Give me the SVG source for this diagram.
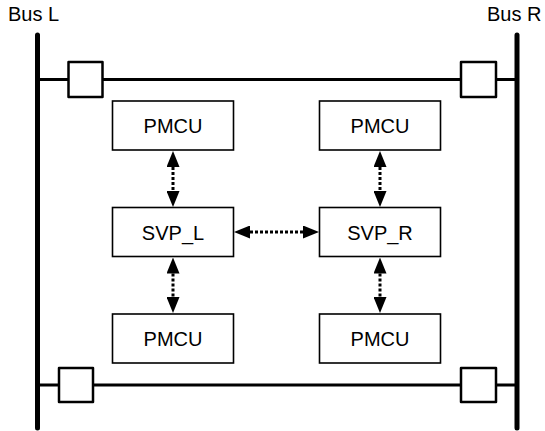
<svg xmlns="http://www.w3.org/2000/svg" width="545" height="431" viewBox="0 0 545 431">
<style>
.bus{stroke:#000;stroke-width:5;stroke-linecap:round;fill:none}
.line{stroke:#000;stroke-width:3;fill:none}
.sq{fill:#fff;stroke:#000;stroke-width:2.5;stroke-linejoin:round}
.box{fill:#fff;stroke:#000;stroke-width:1.6}
.lbl{font-family:"Liberation Sans",Arial,sans-serif;font-size:20px;fill:#000}
.conn{stroke:#000;stroke-width:3;stroke-dasharray:3 2;fill:none;marker-start:url(#ah);marker-end:url(#ah)}
</style>
<defs>
<marker id="ah" markerUnits="userSpaceOnUse" markerWidth="16" markerHeight="13" refX="0" refY="6.5" orient="auto-start-reverse" viewBox="0 0 16 13">
<path d="M0,0 L16,6.5 L0,13 z" fill="#000"/>
</marker>
</defs>
<rect width="545" height="431" fill="#fff"/>
<g id="busL">
<line class="bus" x1="37.5" y1="35" x2="37.5" y2="428"/>
<text class="lbl" x="8" y="21">Bus L</text>
</g>
<g id="busR">
<line class="bus" x1="517" y1="35" x2="517" y2="428"/>
<text class="lbl" x="487" y="21">Bus R</text>
</g>
<g id="lineTop">
<line class="line" x1="37" y1="79.5" x2="517" y2="79.5"/>
<rect class="sq" x="68.5" y="62" width="34" height="35"/>
<rect class="sq" x="461" y="62" width="35" height="35"/>
</g>
<g id="lineBottom">
<line class="line" x1="37" y1="385" x2="517" y2="385"/>
<rect class="sq" x="59" y="368" width="34" height="34"/>
<rect class="sq" x="461" y="368" width="35" height="34"/>
</g>
<g id="pmcuTL"><rect class="box" x="112.5" y="101" width="121" height="49"/><text class="lbl" x="173" y="133" text-anchor="middle">PMCU</text></g>
<g id="pmcuTR"><rect class="box" x="319.5" y="101" width="121" height="49"/><text class="lbl" x="380" y="133" text-anchor="middle">PMCU</text></g>
<g id="svpL"><rect class="box" x="112.5" y="207.5" width="121" height="49"/><text class="lbl" x="173" y="239.5" text-anchor="middle">SVP_L</text></g>
<g id="svpR"><rect class="box" x="319.5" y="207.5" width="121" height="49"/><text class="lbl" x="380" y="239.5" text-anchor="middle">SVP_R</text></g>
<g id="pmcuBL"><rect class="box" x="112.5" y="314" width="121" height="49"/><text class="lbl" x="173" y="346" text-anchor="middle">PMCU</text></g>
<g id="pmcuBR"><rect class="box" x="319.5" y="314" width="121" height="49"/><text class="lbl" x="380" y="346" text-anchor="middle">PMCU</text></g>
<g id="connectors">
<line class="conn" x1="173" y1="167" x2="173" y2="191"/>
<line class="conn" x1="380" y1="167" x2="380" y2="191"/>
<line class="conn" x1="173" y1="273.5" x2="173" y2="297"/>
<line class="conn" x1="380" y1="273.5" x2="380" y2="297"/>
<line class="conn" x1="250" y1="232" x2="303" y2="232"/>
</g>
</svg>
